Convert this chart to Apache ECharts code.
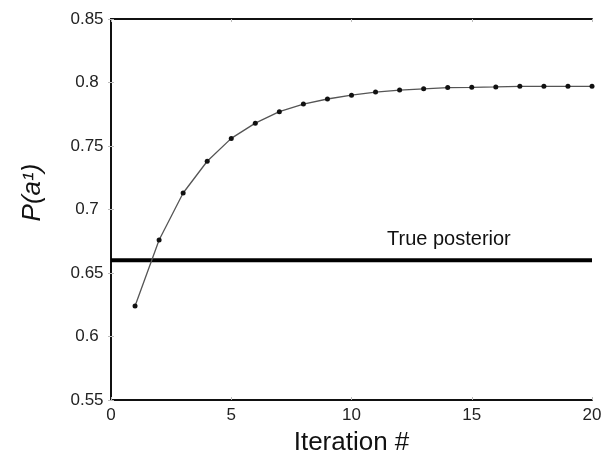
<!DOCTYPE html>
<html>
<head>
<meta charset="utf-8">
<script src="https://cdn.jsdelivr.net/npm/echarts@6/dist/echarts.min.js"></script>
<style>
  html, body { margin: 0; padding: 0; background: #fff; }
  #chart { width: 608px; height: 453px; }
</style>
</head>
<body>
<div id="chart"></div>
<script>
// values
const iterations = [1, 2, 3, 4, 5, 6, 7, 8, 9, 10, 11, 12, 13, 14, 15, 16, 17, 18, 19, 20];
const probA1 = [0.624, 0.676, 0.713, 0.738, 0.756, 0.768, 0.777, 0.783, 0.787, 0.790,
  0.7925, 0.794, 0.795, 0.796, 0.7962, 0.7965, 0.797, 0.797, 0.797, 0.797];
const truePosterior = 0.66;
const xTicks = [0, 5, 10, 15, 20];
const yTicks = [0.55, 0.6, 0.65, 0.7, 0.75, 0.8, 0.85];

const font = 'Liberation Sans, Arial, sans-serif';

let chart;

const getOption = () => {
  const frameAxis = (extra) => Object.assign({
    axisLine: { show: true, lineStyle: { color: '#111', width: 2 } },
    axisTick: { show: true, inside: true, length: 3, lineStyle: { color: '#bbb' } },
    splitLine: { show: false }
  }, extra);

  return {
    animation: false,
    backgroundColor: '#fff',
    grid: { left: 111, right: 16, top: 19, bottom: 53, outerBoundsMode: 'none', containLabel: false },
    xAxis: [
      frameAxis({
        type: 'value', min: xTicks[0], max: xTicks[xTicks.length - 1], interval: 5,
        name: 'Iteration #', nameLocation: 'middle', nameGap: 30,
        nameTextStyle: { fontFamily: font, fontSize: 26, color: '#111' },
        axisLabel: { fontFamily: font, fontSize: 17, color: '#222', margin: 7 }
      }),
      frameAxis({
        type: 'value', position: 'top', min: xTicks[0], max: xTicks[xTicks.length - 1], interval: 5,
        axisLabel: { show: false }
      })
    ],
    yAxis: [
      frameAxis({
        type: 'value', min: yTicks[0], max: yTicks[yTicks.length - 1], interval: 0.05,
        name: 'P(a¹)', nameLocation: 'middle', nameGap: 65,
        nameTextStyle: {
          fontFamily: font, fontSize: 26, fontStyle: 'italic', color: '#111',
          padding: [0, 0, 0, 34]
        },
        axisLabel: {
          fontFamily: font, fontSize: 17, color: '#222', margin: 24, align: 'center',
          formatter: v => String(+v.toFixed(2))
        }
      }),
      frameAxis({
        type: 'value', position: 'right', min: yTicks[0], max: yTicks[yTicks.length - 1], interval: 0.05,
        axisLabel: { show: false }
      })
    ],
    series: [
      {
        type: 'line',
        data: [[xTicks[0], truePosterior], [xTicks[xTicks.length - 1], truePosterior]],
        symbol: 'none',
        lineStyle: { color: '#000', width: 4 },
        z: 3,
        markPoint: {
          symbol: 'circle', symbolSize: 0,
          label: {
            show: true, position: 'inside', formatter: 'True posterior',
            fontFamily: font, fontSize: 20, color: '#111'
          },
          data: [{ coord: [14.05, 0.676] }]
        }
      },
      {
        type: 'line',
        data: iterations.map((it, i) => [it, probA1[i]]),
        symbol: 'circle', symbolSize: 5,
        itemStyle: { color: '#111' },
        lineStyle: { color: '#555', width: 1.3 },
        z: 4
      }
    ]
  };
};

const initChart = () => {
  chart = echarts.init(document.getElementById('chart'));
  chart.setOption(getOption());
};

document.addEventListener('DOMContentLoaded', function () {
  initChart();
});

window.addEventListener('resize', function () {
  chart.resize();
});
</script>
</body>
</html>
